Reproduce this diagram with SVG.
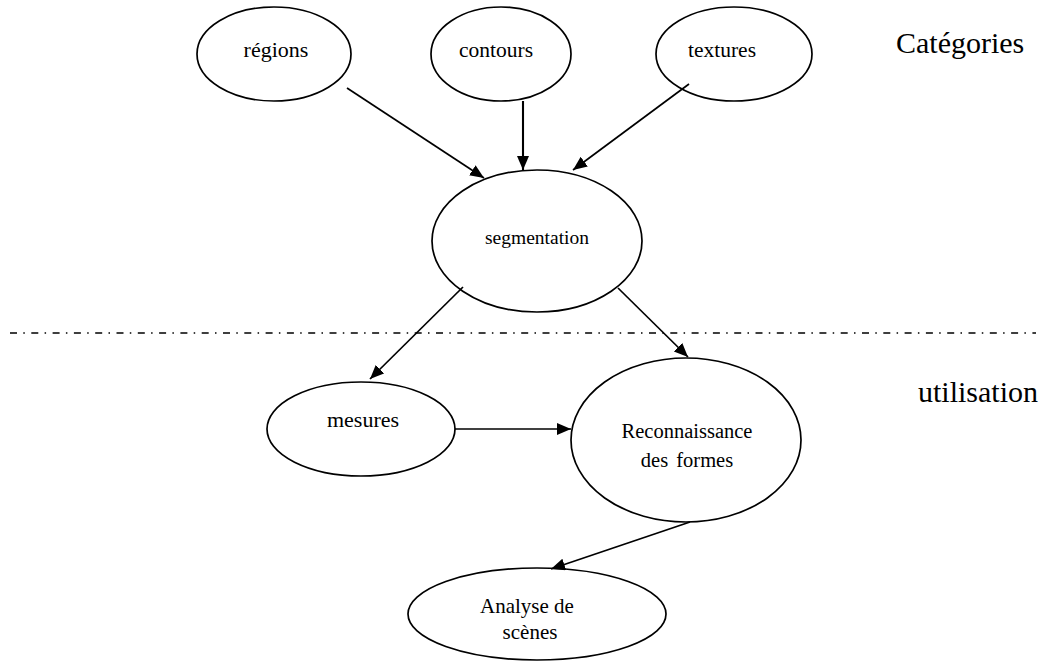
<svg xmlns="http://www.w3.org/2000/svg" width="1052" height="662" viewBox="0 0 1052 662">
<style>
.n{fill:#fff;stroke:#000;stroke-width:1.7}
.t{font-family:"Liberation Serif","Times New Roman",serif;fill:#000;text-anchor:middle}
.c line{stroke:#000;stroke-width:1.7;marker-end:url(#ah)}
.lab{font-family:"Liberation Serif","Times New Roman",serif;font-size:30px;fill:#000}
</style>
<defs>
<marker id="ah" markerUnits="userSpaceOnUse" markerWidth="15" markerHeight="13" refX="14" refY="6" orient="auto">
<path d="M0,0 L14,6 L0,12 z" fill="#000"/>
</marker>
</defs>
<rect width="1052" height="662" fill="#fff"/>
<line x1="10" y1="333" x2="1036" y2="333" stroke="#000" stroke-width="1.3" stroke-dasharray="7 6.3 1.5 6.5"/>
<text class="lab" x="896" y="53">Catégories</text>
<text class="lab" x="918" y="402">utilisation</text>
<g id="regions"><ellipse class="n" cx="274" cy="54" rx="77" ry="47"/><text class="t" x="276" y="57" font-size="22">régions</text></g>
<g id="contours"><ellipse class="n" cx="501" cy="54" rx="70" ry="47"/><text class="t" x="496" y="57" font-size="21.5">contours</text></g>
<g id="textures"><ellipse class="n" cx="734" cy="54" rx="78" ry="47"/><text class="t" x="722" y="57" font-size="21.5">textures</text></g>
<g id="segmentation"><ellipse class="n" cx="537" cy="241" rx="105" ry="71"/><text class="t" x="537" y="244" font-size="19.5">segmentation</text></g>
<g id="mesures"><ellipse class="n" cx="361" cy="429" rx="94" ry="47"/><text class="t" x="363" y="427" font-size="22">mesures</text></g>
<g id="reconnaissance"><ellipse class="n" cx="686" cy="440" rx="115" ry="82"/><text class="t" x="687" y="438" font-size="20.5">Reconnaissance</text><text class="t" x="687" y="467" font-size="20.5" word-spacing="3">des formes</text></g>
<g id="analyse"><ellipse class="n" cx="537" cy="614" rx="129" ry="46"/><text class="t" x="527" y="613" font-size="21">Analyse de</text><text class="t" x="530" y="639" font-size="21">scènes</text></g>
<g id="connectors" class="c">
<line x1="347" y1="88" x2="484" y2="178"/>
<line x1="523" y1="101" x2="523" y2="170" style="stroke-width:2.1"/>
<line x1="689" y1="84" x2="573" y2="170"/>
<line x1="463" y1="287" x2="370" y2="379"/>
<line x1="618" y1="288" x2="688" y2="357"/>
<line x1="455" y1="429" x2="571" y2="429"/>
<line x1="690" y1="522" x2="551" y2="569"/>
</g>
</svg>
